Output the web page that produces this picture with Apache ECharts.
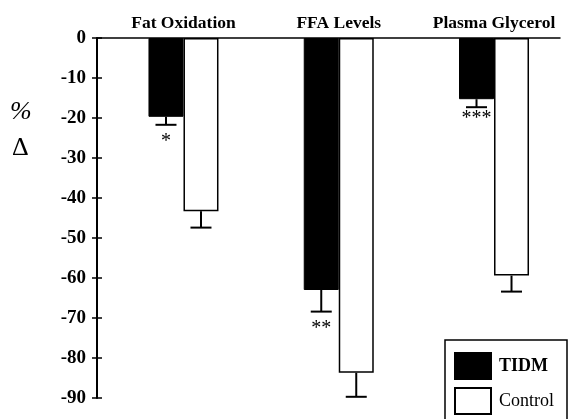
<!DOCTYPE html>
<html>
<head>
<meta charset="utf-8">
<script src="https://cdn.jsdelivr.net/npm/echarts@6/dist/echarts.min.js"></script>
<style>html,body{margin:0;padding:0;background:#fff}#c{width:575px;height:419px}</style>
</head>
<body>
<div id="c"></div>
<script>
const categories = ['Fat Oxidation', 'FFA Levels', 'Plasma Glycerol'];
const seriesNames = ['TIDM', 'Control'];
const tidmValues = [-19.7, -63.0, -15.3];
const tidmErrors = [2.0, 5.4, 2.0];
const controlValues = [-43.3, -83.7, -59.4];
const controlErrors = [4.1, 6.0, 4.0];
const tidmMarks = ['*', '**', '***'];
const yTicks = [0, -10, -20, -30, -40, -50, -60, -70, -80, -90];

const FONT = '"Liberation Serif", "Times New Roman", serif';
const catPos = categories.map((c, i) => i + 1);
const BW = 35;

function barData(vals) { return vals.map((v, i) => [catPos[i], v]); }
function errData(vals, errs, marks) {
  return vals.map((v, i) => [catPos[i], v, v - errs[i], marks ? marks[i] : '']);
}
function errRender(side, markGap) {
  return function (params, api) {
    const x = api.value(0);
    const top = api.coord([x, api.value(1)]);
    const bot = api.coord([x, api.value(2)]);
    const cx = top[0] + side * BW / 2;
    const children = [
      { type: 'line', shape: { x1: cx, y1: top[1], x2: cx, y2: bot[1] }, style: { stroke: '#000', lineWidth: 2 } },
      { type: 'line', shape: { x1: cx - 10.5, y1: bot[1], x2: cx + 10.5, y2: bot[1] }, style: { stroke: '#000', lineWidth: 2 } }
    ];
    const mark = api.value(3);
    if (mark) {
      const gap = markGap[params.dataIndex];
      children.push({ type: 'text', x: cx, y: bot[1] + gap, style: { text: String(mark), font: '20px ' + FONT, fill: '#000', align: 'center', verticalAlign: 'middle' } });
    }
    return { type: 'group', children };
  };
}

const chart = echarts.init(document.getElementById('c'), null, { renderer: 'canvas' });
chart.setOption({
  animation: false,
  backgroundColor: '#fff',
  textStyle: { fontFamily: FONT, color: '#000' },
  grid: { left: 97, right: 15, top: 38, bottom: 21, containLabel: false },
  xAxis: {
    type: 'value', position: 'top', min: 0.443, max: 3.425,
    axisLine: { show: true, onZero: false, lineStyle: { color: '#000', width: 1.5 } },
    axisTick: { show: false },
    splitLine: { show: false },
    axisLabel: {
      customValues: catPos, margin: 6, color: '#000', fontFamily: FONT, fontWeight: 'bold', fontSize: 17.5,
      formatter: v => categories[Math.round(v) - 1] || ''
    }
  },
  yAxis: [{
    type: 'value', min: -90, max: 0, interval: 10,
    axisLine: { show: true, onZero: false, lineStyle: { color: '#000', width: 2 } },
    axisTick: { show: true, length: 5, lineStyle: { color: '#000', width: 1.5 } },
    splitLine: { show: false },
    axisLabel: { margin: 11, color: '#000', fontFamily: FONT, fontWeight: 'bold', fontSize: 19,
      customValues: yTicks, formatter: v => String(v) }
  }, {
    type: 'value', min: -90, max: 0, interval: 10, position: 'left',
    axisLine: { show: false },
    axisTick: { show: true, inside: true, length: 5, lineStyle: { color: '#000', width: 1.5 } },
    axisLabel: { show: false }, splitLine: { show: false }
  }],
  legend: {
    orient: 'vertical', left: 445, top: 340, height: 120,
    padding: [12, 13, 14, 9], itemGap: 7, itemWidth: 36, itemHeight: 26,
    borderColor: '#000', borderWidth: 1.5, backgroundColor: '#fff',
    icon: 'rect',
    textStyle: { fontFamily: FONT, fontSize: 18, color: '#000', padding: [0, 0, 0, 3] },
    data: [{ name: seriesNames[0], textStyle: { fontWeight: 'bold' } }, { name: seriesNames[1] }]
  },
  graphic: [
    { type: 'text', left: 10, top: 99, style: { text: '%', font: 'italic 26px ' + FONT, fill: '#000' } },
    { type: 'text', left: 12, top: 135, style: { text: 'Δ', font: '26px ' + FONT, fill: '#000' } }
  ],
  series: [
    { name: seriesNames[0], type: 'bar', barWidth: BW, barGap: '0%', data: barData(tidmValues),
      itemStyle: { color: '#000', borderColor: '#000', borderWidth: 1 } },
    { name: seriesNames[1], type: 'bar', barWidth: BW, barGap: '0%', data: barData(controlValues),
      itemStyle: { color: '#fff', borderColor: '#000', borderWidth: 1.5 } },
    { type: 'custom', renderItem: errRender(-1, [17, 17, 12]), data: errData(tidmValues, tidmErrors, tidmMarks), z: 5 },
    { type: 'custom', renderItem: errRender(1, [0, 0, 0]), data: errData(controlValues, controlErrors, null), z: 5 }
  ]
});
</script>
</body>
</html>
